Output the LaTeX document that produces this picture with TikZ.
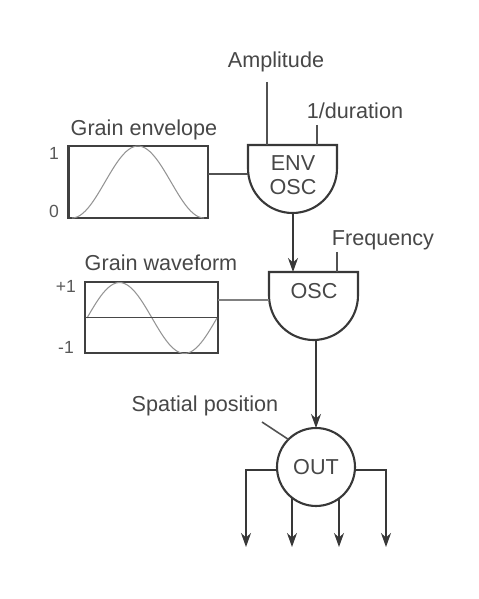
\documentclass[tikz,border=0pt]{standalone}
\usepackage{fontspec}
\setmainfont{Liberation Sans}
\usetikzlibrary{arrows.meta,positioning}

\begin{document}
\begin{tikzpicture}[
    x=0.02cm, y=0.02cm,
    >={Stealth[length=2.8mm,width=2mm]},
    lbl/.style={font=\fontsize{12.3}{14.5}\selectfont, text=black!72, inner sep=0pt, align=center},
    scalelbl/.style={font=\fontsize{10}{12}\selectfont, text=black!65, inner sep=0pt},
    graphbox/.style={rectangle, draw=black!75, line width=1.4pt, outer sep=0pt},
    halfbox/.style={rectangle, minimum width=1.78cm, minimum height=1.36cm, outer sep=0pt, inner sep=0pt},
    unit/.style={draw=black!78, line width=1.2pt},
    conn/.style={-, black!68, line width=0.9pt},
    arr/.style={->, black!78, line width=0.9pt},
    curve/.style={black!42, line width=0.6pt},
]
\useasboundingbox (0,0) rectangle (478,599);

% --- Units ---
\node[halfbox] (env) at (292.5,420) {};
\node[halfbox] (osc) at (313.5,293) {};
\foreach \u in {env,osc} {
    \draw[unit] (\u.north west) -- (\u.north east) -- ++(0,-23.5)
        arc (0:-180:0.89cm) -- cycle;
}
\node[lbl] (envtext) at (293,424) {ENV\\[-1pt]OSC};
\node[lbl] (osctext) at (314,308) {OSC};
\node[circle, draw=black!78, line width=1.2pt, minimum size=1.56cm, inner sep=0pt, outer sep=0pt, lbl] (out) at (316,132) {OUT};

% --- Function boxes ---
\node[graphbox, minimum width=2.79cm, minimum height=1.44cm] (envbox) at (138.25,417) {};
\node[graphbox, minimum width=2.66cm, minimum height=1.42cm] (wavebox) at (151.5,281.5) {};

% --- Curves ---
\draw[curve] plot[domain=72:204, samples=50, smooth] (\x, {381+72*(0.5-0.5*cos((\x-72)/132*360))});
\draw[curve] plot[domain=87:217, samples=50, smooth] (\x, {281+35.5*sin((\x-87)/130*360)});
\draw[black!72, line width=1.1pt] (wavebox.west) -- (wavebox.east);

% --- Labels ---
\node[lbl] (amplitude) at (276,537) {Amplitude};
\node[lbl] (duration) at (355,488) {1/duration};
\node[lbl] (envelope) at (144,469) {Grain envelope};
\node[lbl] (waveform) at (161,336) {Grain waveform};
\node[lbl] (frequency) at (383,359) {Frequency};
\node[lbl] (spatial) at (205,193) {Spatial position};
\node[scalelbl] (envone) at (54,446) {1};
\node[scalelbl] (envzero) at (54,388) {0};
\node[scalelbl] (waveplus) at (66,313) {+1};
\node[scalelbl] (waveminus) at (66,252) {-1};

% --- Free ends ---
\coordinate (amptop) at (267,517);
\coordinate (durtop) at (317,474);
\coordinate (freqtop) at (337,347);
\coordinate (spatialtop) at (262,177);
\coordinate (outa) at (246,52);
\coordinate (outb) at (292,52);
\coordinate (outc) at (339,52);
\coordinate (outd) at (386,52);

% --- Control lines ---
\draw[conn] (amptop) -- (amptop |- env.north);
\draw[conn] (durtop) -- (durtop |- env.north);
\draw[conn] (freqtop) -- (freqtop |- osc.north);
\draw[conn] (spatialtop) -- (out.135);
\draw[conn] (envbox.east |- 0,425) -- (env.west |- 0,425);
\draw[conn, black!50] (wavebox.east |- 0,299) -- (osc.west |- 0,299);

% --- Signal path ---
\draw[arr] (293,386) -- (293,327);
\draw[arr] (316,260) -- (out.north);
\draw[arr] (out.west |- 0,129) -- (outa |- 0,129) -- (outa);
\draw[arr] (outb |- out.south) ++(0,8) -- (outb);
\draw[arr] (outc |- out.south) ++(0,8) -- (outc);
\draw[arr] (out.east |- 0,129) -- (outd |- 0,129) -- (outd);

\end{tikzpicture}
\end{document}
